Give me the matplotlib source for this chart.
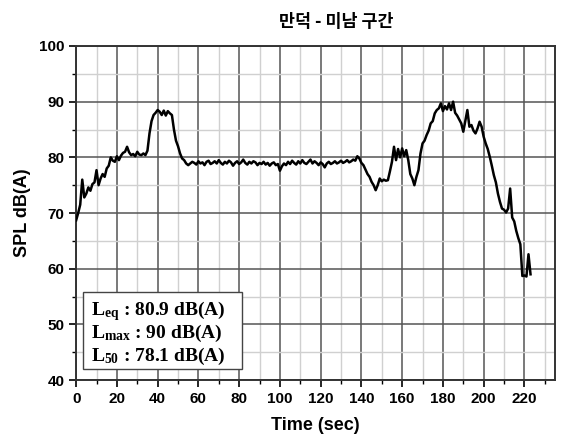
import matplotlib
matplotlib.use("Agg")
import matplotlib.pyplot as plt
import numpy as np
from matplotlib.ticker import MultipleLocator
from matplotlib.patches import Rectangle

# ---- data ----
title = "만덕 - 미남 구간"
x_label = "Time (sec)"
y_label = "SPL dB(A)"
stats_lines = [r"$\mathbf{L_{eq}}$ : 80.9 dB(A)",
               r"$\mathbf{L_{max}}$ : 90 dB(A)",
               r"$\mathbf{L_{50}}$ : 78.1 dB(A)"]

spl_start = [68.7, 70.0, 71.5, 76.0, 72.8, 73.5, 74.6, 74.0, 75.2, 75.5,
             77.7, 75.0, 76.2, 77.0, 76.5, 78.0, 78.5, 80.0, 79.4, 79.2,
             80.2, 79.5, 80.3, 80.8, 81.0, 81.9, 80.9, 80.4, 80.6, 80.2,
             81.0, 80.5, 80.4, 80.7, 80.4, 81.2, 84.3, 86.5, 87.6, 88.0,
             88.5, 88.2, 87.6, 88.4, 87.5, 88.3, 87.9, 87.6, 85.0, 83.0,
             82.0, 80.7, 79.8, 79.5, 78.9, 78.6, 78.9, 79.2]
spl_flat = [79.0, 78.7, 79.3, 78.9, 79.1, 78.6, 79.2, 79.4, 78.8, 79.0,
            79.3, 78.9, 79.5, 79.0, 78.7, 79.2, 78.9, 79.4, 79.1, 78.5,
            79.0, 79.3, 78.8, 79.1, 79.6, 79.0, 78.7, 79.2, 78.9, 79.3,
            79.1, 78.6, 79.0, 78.8, 79.2, 78.7, 79.0, 78.5, 78.9, 79.1,
            78.6, 78.8, 77.6, 78.4, 78.9, 78.6, 79.2, 78.8, 79.4, 79.0,
            78.7, 79.3, 78.9, 79.5, 79.0, 78.8, 79.2, 79.6, 78.9, 79.3,
            79.0, 78.6, 79.1, 78.8, 78.2, 78.9, 79.2, 78.8, 79.0, 79.3,
            78.9, 79.1, 79.4, 79.0, 79.2, 79.5, 79.1, 79.3, 79.6, 79.4, 80.2]
spl_end = [79.8, 79.0, 78.6, 77.8, 77.0, 76.5, 75.6, 75.0, 74.1, 75.0,
           76.2, 75.7, 76.0, 75.8, 75.9, 77.5, 79.2, 81.9, 79.5, 81.5,
           80.0, 81.6, 80.2, 81.3, 79.5, 77.0, 76.2, 75.0, 76.5, 77.7,
           80.7, 82.5, 83.0, 84.0, 84.8, 86.1, 86.5, 87.9, 88.5, 88.8,
           89.7, 88.3, 89.2, 88.6, 89.7, 88.5, 90.0, 88.0, 87.5, 86.8,
           86.1, 84.6, 86.5, 88.5, 85.5, 85.8, 84.8, 84.3, 85.2, 86.4,
           85.5, 83.7, 82.5, 81.5, 80.1, 78.5, 76.8, 75.5, 73.5, 72.0,
           70.8, 70.6, 70.1, 70.8, 74.4, 69.2, 68.5, 66.8, 65.5, 64.4,
           58.7, 58.8, 58.6, 62.6, 59.0]
spl = spl_start + spl_flat + spl_end
time_s = list(range(len(spl)))

x_ticks = list(range(0, 221, 20))
y_ticks = list(range(40, 101, 10))

# ---- plot ----
plt.rcParams['mathtext.fontset'] = 'custom'
plt.rcParams['mathtext.bf'] = 'Liberation Serif:bold'
plt.rcParams['mathtext.rm'] = 'Liberation Serif:bold'

fig = plt.figure(figsize=(5.64, 4.42), dpi=100)
ax = fig.add_axes([0.135, 0.140, 0.849, 0.756])

ax.plot(time_s, spl, color='black', lw=1.8, zorder=3)

ax.set_xlim(0, 235)
ax.set_ylim(40, 100)
ax.set_xticks(x_ticks)
ax.set_yticks(y_ticks)
ax.xaxis.set_minor_locator(MultipleLocator(10))
ax.yaxis.set_minor_locator(MultipleLocator(5))

ax.grid(which='major', color='#555555', lw=1.1, zorder=1)
ax.grid(which='minor', color='#d0d0d0', lw=1.0, zorder=0)
ax.set_axisbelow(True)

for s in ax.spines.values():
    s.set_linewidth(1.4)
    s.set_color('#333333')

ax.tick_params(which='major', direction='out', length=5, width=1.2,
               labelsize=11)
ax.tick_params(which='minor', direction='out', length=3, width=1.0)
for lab in ax.get_xticklabels() + ax.get_yticklabels():
    lab.set_fontfamily('Liberation Sans')
    lab.set_fontweight('bold')

ax.set_xlabel(x_label, fontfamily='Liberation Sans', fontweight='bold',
              fontsize=13, labelpad=8)
ax.set_ylabel(y_label, fontfamily='Liberation Sans', fontweight='bold',
              fontsize=13, labelpad=6)
ax.set_title(title, fontfamily=['Noto Sans CJK KR', 'DejaVu Sans'],
             fontweight='bold', fontsize=12.5, pad=14, x=0.544)

# stats box
ax.add_patch(Rectangle((3.2, 42.0), 78.0, 13.8, facecolor='white',
                       edgecolor='#444444', lw=1.0, zorder=5))
for line, yb in zip(stats_lines, [51.6, 47.5, 43.5]):
    ax.text(7.3, yb, line, fontfamily='Liberation Serif', fontweight='bold',
            fontsize=14, ha='left', va='baseline', zorder=6)

fig.savefig("out.png", dpi=100)
